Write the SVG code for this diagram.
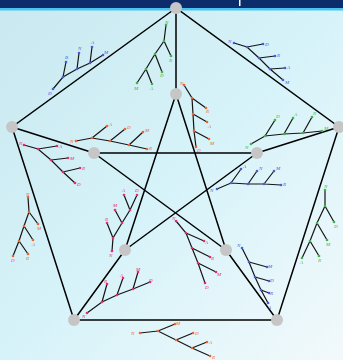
<svg xmlns="http://www.w3.org/2000/svg" width="343" height="360" viewBox="0 0 343 360">
<style>
.e{stroke:#000;stroke-width:1.5;fill:none}
.n{fill:#c6c6c6}
.t{fill:none;stroke-width:1.2;stroke:#151515}
.l{font-family:"Liberation Serif",serif;font-style:italic;font-size:5px}
.b circle{fill:#4a5ad8}.b text{fill:#4a5ad8}
.g circle{fill:#3cb447}.g text{fill:#3cb447}
.o circle{fill:#ec6430}.o text{fill:#ec6430}
.p circle{fill:#e42c70}.p text{fill:#e42c70}
</style>
<defs>
<linearGradient id="bg" x1="0" y1="0" x2="1" y2="1">
<stop offset="0" stop-color="#c9e8ef"/>
<stop offset="0.5" stop-color="#d6f3f9"/>
<stop offset="1" stop-color="#f2f9fb"/>
</linearGradient>
</defs>
<rect width="343" height="360" fill="url(#bg)"/>
<rect width="343" height="9" fill="#0c2c6c"/>
<rect y="8" width="343" height="2.5" fill="#4ac4ee"/>
<rect x="239" y="0" width="1.5" height="6" fill="#ffffff"/>

<g id="connectors" class="e">
<path d="M176,8 L12,127 L74,320 L277,320 L339,127 Z"/>
<path d="M176,8 L176,94 M12,127 L94,153 M339,127 L257,153 M74,320 L125,250 M277,320 L226,250"/>
<path d="M176,94 L125,250 M176,94 L226,250 M94,153 L257,153 M94,153 L226,250 M257,153 L125,250"/>
</g>

<g id="tree1" class="b">
<path class="t" d="M53,89 L63,77 L77,69 L90,63 L103,55 M63,77 L66,62 M77,69 L79,53 M90,63 L92,47"/>
<circle cx="53" cy="89" r="1.3"/><circle cx="63" cy="77" r="1.3"/><circle cx="77" cy="69" r="1.3"/><circle cx="90" cy="63" r="1.3"/><circle cx="103" cy="55" r="1.3"/><circle cx="66" cy="62" r="1.3"/><circle cx="79" cy="53" r="1.3"/><circle cx="92" cy="47" r="1.3"/>
<text class="l" x="48" y="95">D</text><text class="l" x="65" y="59">B</text><text class="l" x="78" y="50">N</text><text class="l" x="91" y="44">A</text><text class="l" x="104" y="54">M</text>
</g>

<g id="tree2" class="g">
<path class="t" d="M166,25 L164,41 L155,54 L146,69 L137,83 M164,41 L171,56 M155,54 L162,72 M146,69 L152,84"/>
<circle cx="166" cy="25" r="1.3"/><circle cx="164" cy="41" r="1.3"/><circle cx="155" cy="54" r="1.3"/><circle cx="146" cy="69" r="1.3"/><circle cx="137" cy="83" r="1.3"/><circle cx="171" cy="56" r="1.3"/><circle cx="162" cy="72" r="1.3"/><circle cx="152" cy="84" r="1.3"/>
<text class="l" x="165" y="24">N</text><text class="l" x="169" y="62">R</text><text class="l" x="160" y="77">D</text><text class="l" x="134" y="90">M</text><text class="l" x="150" y="90">A</text>
</g>

<g id="tree3" class="o">
<path class="t" d="M184,85 L192,98 L193,114 L194,131 L196,147 M192,98 L206,108 M193,114 L207,122 M194,131 L209,139"/>
<circle cx="184" cy="85" r="1.3"/><circle cx="192" cy="98" r="1.3"/><circle cx="193" cy="114" r="1.3"/><circle cx="194" cy="131" r="1.3"/><circle cx="196" cy="147" r="1.3"/><circle cx="206" cy="108" r="1.3"/><circle cx="207" cy="122" r="1.3"/><circle cx="209" cy="139" r="1.3"/>
<text class="l" x="180" y="85">N</text><text class="l" x="206" y="113">R</text><text class="l" x="208" y="128">A</text><text class="l" x="210" y="145">M</text><text class="l" x="197" y="152">D</text>
</g>

<g id="tree4" class="b">
<path class="t" d="M234,43 L247,47 L259,58 L270,69 L283,80 M247,47 L263,44 M259,58 L275,56 M270,69 L285,68"/>
<circle cx="234" cy="43" r="1.3"/><circle cx="247" cy="47" r="1.3"/><circle cx="259" cy="58" r="1.3"/><circle cx="270" cy="69" r="1.3"/><circle cx="283" cy="80" r="1.3"/><circle cx="263" cy="44" r="1.3"/><circle cx="275" cy="56" r="1.3"/><circle cx="285" cy="68" r="1.3"/>
<text class="l" x="228" y="43">N</text><text class="l" x="265" y="46">D</text><text class="l" x="277" y="57">R</text><text class="l" x="287" y="69">A</text><text class="l" x="285" y="84">M</text>
</g>

<g id="tree5" class="o">
<path class="t" d="M76,141 L92,138 L110,141 L129,145 L147,149 M92,138 L107,126 M110,141 L125,129 M129,145 L143,132"/>
<circle cx="76" cy="141" r="1.3"/><circle cx="92" cy="138" r="1.3"/><circle cx="110" cy="141" r="1.3"/><circle cx="129" cy="145" r="1.3"/><circle cx="147" cy="149" r="1.3"/><circle cx="107" cy="126" r="1.3"/><circle cx="125" cy="129" r="1.3"/><circle cx="143" cy="132" r="1.3"/>
<text class="l" x="70" y="143">N</text><text class="l" x="109" y="126">A</text><text class="l" x="127" y="129">D</text><text class="l" x="145" y="132">M</text><text class="l" x="149" y="150">R</text>
</g>

<g id="tree6" class="g">
<path class="t" d="M251,144 L265,136 L284,134 L303,133 L322,131 M265,136 L275,120 M284,134 L293,118 M303,133 L312,117"/>
<circle cx="251" cy="144" r="1.3"/><circle cx="265" cy="136" r="1.3"/><circle cx="284" cy="134" r="1.3"/><circle cx="303" cy="133" r="1.3"/><circle cx="322" cy="131" r="1.3"/><circle cx="275" cy="120" r="1.3"/><circle cx="293" cy="118" r="1.3"/><circle cx="312" cy="117" r="1.3"/>
<text class="l" x="245" y="149">N</text><text class="l" x="276" y="118">D</text><text class="l" x="294" y="116">A</text><text class="l" x="313" y="115">R</text><text class="l" x="324" y="130">M</text>
</g>

<g id="tree7" class="p">
<path class="t" d="M24,145 L38,149 L51,160 L63,172 L75,183 M38,149 L57,146 M51,160 L68,158 M63,172 L80,168"/>
<circle cx="24" cy="145" r="1.3"/><circle cx="38" cy="149" r="1.3"/><circle cx="51" cy="160" r="1.3"/><circle cx="63" cy="172" r="1.3"/><circle cx="75" cy="183" r="1.3"/><circle cx="57" cy="146" r="1.3"/><circle cx="68" cy="158" r="1.3"/><circle cx="80" cy="168" r="1.3"/>
<text class="l" x="19" y="145">N</text><text class="l" x="59" y="148">A</text><text class="l" x="70" y="160">M</text><text class="l" x="82" y="170">R</text><text class="l" x="77" y="186">D</text>
</g>

<g id="tree8" class="b">
<path class="t" d="M217,189 L231,183 L248,184 L264,184 L281,185 M231,183 L241,169 M248,184 L257,171 M264,184 L274,171"/>
<circle cx="217" cy="189" r="1.3"/><circle cx="231" cy="183" r="1.3"/><circle cx="248" cy="184" r="1.3"/><circle cx="264" cy="184" r="1.3"/><circle cx="281" cy="185" r="1.3"/><circle cx="241" cy="169" r="1.3"/><circle cx="257" cy="171" r="1.3"/><circle cx="274" cy="171" r="1.3"/>
<text class="l" x="210" y="192">N</text><text class="l" x="243" y="168">A</text><text class="l" x="259" y="170">N</text><text class="l" x="276" y="170">M</text><text class="l" x="283" y="186">R</text>
</g>

<g id="tree9" class="o">
<path class="t" d="M28,197 L29,212 L24,226 L19,241 L13,256 M29,212 L38,224 M24,226 L33,240 M19,241 L28,254"/>
<circle cx="28" cy="197" r="1.3"/><circle cx="29" cy="212" r="1.3"/><circle cx="24" cy="226" r="1.3"/><circle cx="19" cy="241" r="1.3"/><circle cx="13" cy="256" r="1.3"/><circle cx="38" cy="224" r="1.3"/><circle cx="33" cy="240" r="1.3"/><circle cx="28" cy="254" r="1.3"/>
<text class="l" x="26" y="196">N</text><text class="l" x="37" y="230">M</text><text class="l" x="32" y="246">A</text><text class="l" x="26" y="260">R</text><text class="l" x="11" y="262">D</text>
</g>

<g id="tree10" class="p">
<path class="t" d="M112,251 L113,238 L122,223 L130,210 L137,195 M113,238 L107,223 M122,223 L115,210 M130,210 L124,195"/>
<circle cx="112" cy="251" r="1.3"/><circle cx="113" cy="238" r="1.3"/><circle cx="122" cy="223" r="1.3"/><circle cx="130" cy="210" r="1.3"/><circle cx="137" cy="195" r="1.3"/><circle cx="107" cy="223" r="1.3"/><circle cx="115" cy="210" r="1.3"/><circle cx="124" cy="195" r="1.3"/>
<text class="l" x="109" y="257">N</text><text class="l" x="105" y="221">R</text><text class="l" x="113" y="207">M</text><text class="l" x="122" y="192">A</text><text class="l" x="135" y="192">D</text>
</g>

<g id="tree11" class="g">
<path class="t" d="M325,190 L325,206 L317,223 L310,241 L302,258 M325,206 L334,222 M317,223 L327,240 M310,241 L319,256"/>
<circle cx="325" cy="190" r="1.3"/><circle cx="325" cy="206" r="1.3"/><circle cx="317" cy="223" r="1.3"/><circle cx="310" cy="241" r="1.3"/><circle cx="302" cy="258" r="1.3"/><circle cx="334" cy="222" r="1.3"/><circle cx="327" cy="240" r="1.3"/><circle cx="319" cy="256" r="1.3"/>
<text class="l" x="324" y="188">N</text><text class="l" x="334" y="228">D</text><text class="l" x="326" y="246">M</text><text class="l" x="318" y="262">R</text><text class="l" x="300" y="264">A</text>
</g>

<g id="tree12" class="p">
<path class="t" d="M176,221 L186,233 L192,248 L198,263 L205,283 M186,233 L204,241 M192,248 L210,257 M198,263 L216,272"/>
<circle cx="176" cy="221" r="1.3"/><circle cx="186" cy="233" r="1.3"/><circle cx="192" cy="248" r="1.3"/><circle cx="198" cy="263" r="1.3"/><circle cx="205" cy="283" r="1.3"/><circle cx="204" cy="241" r="1.3"/><circle cx="210" cy="257" r="1.3"/><circle cx="216" cy="272" r="1.3"/>
<text class="l" x="172" y="220">N</text><text class="l" x="205" y="244">A</text><text class="l" x="211" y="260">R</text><text class="l" x="217" y="276">M</text><text class="l" x="205" y="289">D</text>
</g>

<g id="tree13" class="b">
<path class="t" d="M242,248 L249,262 L255,277 L261,290 L268,303 M249,262 L267,267 M255,277 L269,281 M261,290 L269,293"/>
<circle cx="242" cy="248" r="1.3"/><circle cx="249" cy="262" r="1.3"/><circle cx="255" cy="277" r="1.3"/><circle cx="261" cy="290" r="1.3"/><circle cx="268" cy="303" r="1.3"/><circle cx="267" cy="267" r="1.3"/><circle cx="269" cy="281" r="1.3"/><circle cx="269" cy="293" r="1.3"/>
<text class="l" x="237" y="247">N</text><text class="l" x="268" y="268">M</text><text class="l" x="270" y="282">D</text><text class="l" x="270" y="295">R</text><text class="l" x="268" y="309">A</text>
</g>

<g id="tree14" class="p">
<path class="t" d="M87,313 L102,302 L117,295 L133,289 L150,282 M102,302 L107,284 M117,295 L123,278 M133,289 L138,272"/>
<circle cx="87" cy="313" r="1.3"/><circle cx="102" cy="302" r="1.3"/><circle cx="117" cy="295" r="1.3"/><circle cx="133" cy="289" r="1.3"/><circle cx="150" cy="282" r="1.3"/><circle cx="107" cy="284" r="1.3"/><circle cx="123" cy="278" r="1.3"/><circle cx="138" cy="272" r="1.3"/>
<text class="l" x="82" y="318">N</text><text class="l" x="104" y="283">R</text><text class="l" x="120" y="277">A</text><text class="l" x="136" y="271">M</text><text class="l" x="149" y="282">D</text>
</g>

<g id="tree15" class="o">
<path class="t" d="M140,333 L158,331 L176,340 L192,348 L210,356 M158,331 L175,324 M176,340 L193,333 M192,348 L207,342"/>
<circle cx="140" cy="333" r="1.3"/><circle cx="158" cy="331" r="1.3"/><circle cx="176" cy="340" r="1.3"/><circle cx="192" cy="348" r="1.3"/><circle cx="210" cy="356" r="1.3"/><circle cx="175" cy="324" r="1.3"/><circle cx="193" cy="333" r="1.3"/><circle cx="207" cy="342" r="1.3"/>
<text class="l" x="131" y="335">N</text><text class="l" x="176" y="325">M</text><text class="l" x="195" y="335">D</text><text class="l" x="209" y="344">A</text><text class="l" x="212" y="359">R</text>
</g>

<g id="node-top"><circle class="n" cx="176" cy="8" r="6"/></g>
<g id="node-left"><circle class="n" cx="12" cy="127" r="6"/></g>
<g id="node-right"><circle class="n" cx="339" cy="127" r="6"/></g>
<g id="node-bl"><circle class="n" cx="74" cy="320" r="6"/></g>
<g id="node-br"><circle class="n" cx="277" cy="320" r="6"/></g>
<g id="node-in-top"><circle class="n" cx="176" cy="94" r="6"/></g>
<g id="node-in-left"><circle class="n" cx="94" cy="153" r="6"/></g>
<g id="node-in-right"><circle class="n" cx="257" cy="153" r="6"/></g>
<g id="node-in-bl"><circle class="n" cx="125" cy="250" r="6"/></g>
<g id="node-in-br"><circle class="n" cx="226" cy="250" r="6"/></g>
</svg>
